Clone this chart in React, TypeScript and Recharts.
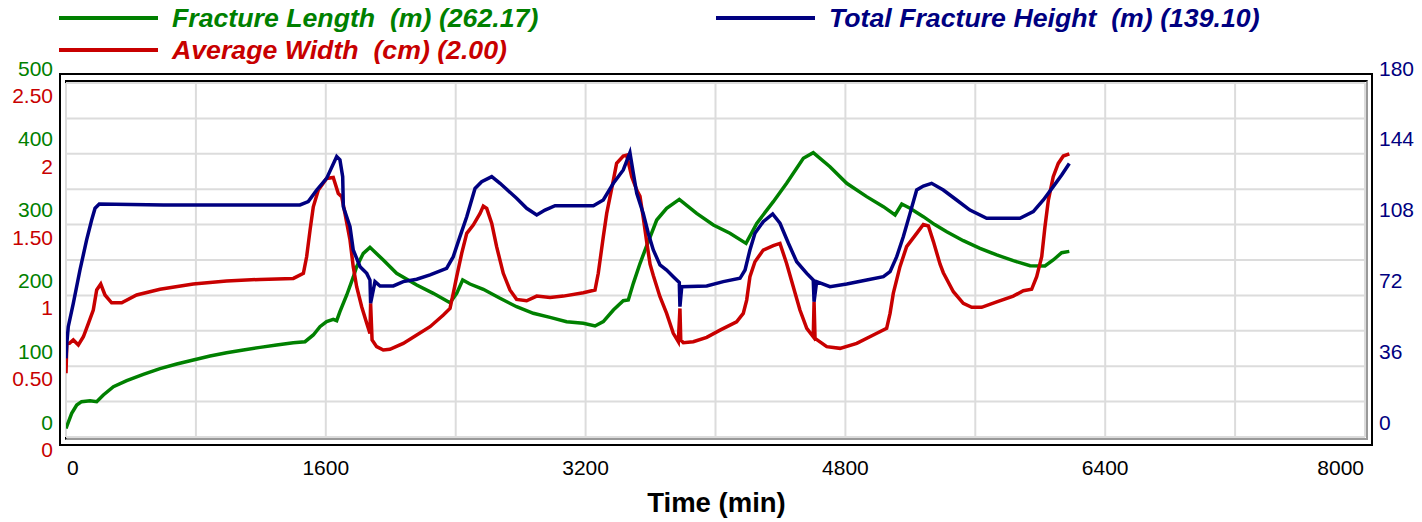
import React from 'react';
import { LineChart, Line, XAxis, YAxis, CartesianGrid } from 'recharts';

// ---- Data (time in minutes) ----
const lengthTime = [0, 8, 35, 66, 96, 148, 189, 230, 292, 374, 476, 579, 682, 784, 887, 989, 1092, 1195, 1297, 1400, 1472, 1523, 1564, 1605, 1646, 1667, 1687, 1729, 1770, 1790, 1831, 1872, 1954, 2036, 2160, 2262, 2365, 2406, 2443, 2488, 2570, 2673, 2775, 2878, 2981, 3083, 3186, 3258, 3309, 3371, 3432, 3463, 3494, 3535, 3576, 3638, 3699, 3777, 3884, 3987, 4089, 4188, 4254, 4356, 4438, 4541, 4602, 4705, 4808, 4931, 5034, 5106, 5147, 5198, 5280, 5350, 5424, 5526, 5629, 5732, 5834, 5937, 6029, 6080, 6132, 6179];
const lengthValue = [12, 17, 33.4, 45.2, 49.9, 51.3, 49.9, 59.3, 71.1, 79.6, 88.5, 96.5, 103.1, 108.8, 114.4, 119.1, 122.9, 126.6, 129.9, 133.2, 134.6, 144.1, 155.8, 162.9, 166.2, 164.3, 177, 200.6, 226.4, 240.5, 259.4, 267.9, 250, 231.2, 214.7, 202.9, 189.7, 202.9, 221.7, 216.1, 208.6, 195.9, 184, 174.7, 169, 162.9, 160.6, 156.8, 162.9, 179.4, 192.5, 193.5, 217, 245, 270, 306.5, 323, 335.7, 315.9, 299.4, 287.7, 273.5, 301.8, 332.4, 358.3, 393.6, 401.6, 381.8, 358.3, 339.5, 325.3, 313.6, 329.1, 323, 311.2, 300, 290, 277.3, 266.5, 257.1, 249, 242, 241.5, 250, 260.3, 262.17];

const widthTime = [0, 5, 21, 45, 76, 107, 138, 168, 189, 214, 240, 281, 343, 435, 579, 784, 989, 1195, 1400, 1462, 1482, 1503, 1523, 1554, 1605, 1646, 1677, 1698, 1718, 1749, 1769, 1790, 1821, 1852, 1872, 1876, 1885, 1913, 1954, 1995, 2077, 2160, 2242, 2324, 2365, 2385, 2406, 2437, 2468, 2508, 2550, 2570, 2591, 2622, 2652, 2693, 2734, 2775, 2837, 2899, 2981, 3063, 3186, 3258, 3278, 3309, 3330, 3371, 3391, 3432, 3453, 3484, 3515, 3535, 3555, 3576, 3597, 3617, 3658, 3699, 3740, 3771, 3781, 3786, 3802, 3863, 3946, 4028, 4130, 4171, 4192, 4212, 4243, 4294, 4356, 4397, 4438, 4479, 4520, 4562, 4602, 4607, 4613, 4685, 4767, 4870, 4972, 5054, 5075, 5095, 5136, 5177, 5239, 5280, 5311, 5342, 5383, 5403, 5465, 5526, 5578, 5639, 5732, 5834, 5896, 5947, 5978, 6009, 6029, 6050, 6080, 6111, 6142, 6179];
const widthValue = [0.45, 0.66, 0.661, 0.685, 0.65, 0.708, 0.803, 0.897, 1.038, 1.08, 1.003, 0.948, 0.948, 1.003, 1.043, 1.08, 1.101, 1.113, 1.12, 1.156, 1.273, 1.461, 1.626, 1.744, 1.826, 1.833, 1.72, 1.697, 1.579, 1.391, 1.203, 1.061, 0.92, 0.803, 0.732, 0.944, 0.685, 0.638, 0.614, 0.619, 0.661, 0.72, 0.779, 0.861, 0.908, 1.014, 1.132, 1.297, 1.438, 1.497, 1.579, 1.631, 1.614, 1.508, 1.344, 1.156, 1.038, 0.972, 0.962, 0.995, 0.986, 0.995, 1.019, 1.038, 1.156, 1.414, 1.579, 1.814, 1.932, 1.984, 1.991, 1.838, 1.744, 1.7, 1.55, 1.38, 1.22, 1.14, 0.991, 0.873, 0.732, 0.673, 0.908, 0.685, 0.666, 0.673, 0.704, 0.755, 0.814, 0.873, 0.967, 1.132, 1.238, 1.32, 1.351, 1.367, 1.226, 1.061, 0.897, 0.767, 0.708, 0.955, 0.697, 0.638, 0.626, 0.661, 0.72, 0.767, 0.873, 1.014, 1.203, 1.344, 1.438, 1.501, 1.49, 1.38, 1.22, 1.16, 1.026, 0.944, 0.916, 0.916, 0.955, 0.995, 1.033, 1.043, 1.132, 1.273, 1.485, 1.673, 1.838, 1.932, 1.984, 2.0];

const heightTime = [0, 5, 14, 45, 86, 127, 158, 179, 205, 600, 1000, 1441, 1492, 1544, 1605, 1667, 1687, 1704, 1708, 1749, 1769, 1811, 1852, 1872, 1876, 1903, 1934, 2016, 2077, 2160, 2242, 2344, 2385, 2426, 2468, 2519, 2560, 2622, 2673, 2775, 2837, 2899, 2950, 3012, 3248, 3309, 3371, 3432, 3473, 3494, 3515, 3535, 3555, 3586, 3617, 3658, 3699, 3740, 3777, 3781, 3792, 3946, 4048, 4151, 4182, 4212, 4243, 4294, 4352, 4397, 4449, 4500, 4562, 4602, 4607, 4623, 4705, 4808, 4931, 5034, 5075, 5116, 5157, 5198, 5239, 5280, 5331, 5403, 5485, 5567, 5670, 5875, 5957, 6019, 6080, 6132, 6179];
const heightValue = [40, 47.6, 56.1, 68, 84.9, 100.2, 110.3, 116.3, 118.5, 118, 118, 118, 119.7, 125.6, 131.5, 142.6, 140.9, 132.4, 117.1, 107, 95.1, 86.6, 83.2, 79.8, 68, 79, 76.8, 76.8, 79, 80.2, 82.4, 85.8, 91.7, 101.9, 112, 126.4, 129.8, 132.4, 129, 121.4, 116.3, 112.9, 115.4, 117.6, 117.6, 120.5, 129, 135.8, 144.6, 134.1, 123.9, 118.8, 113.7, 103.6, 95.1, 87.5, 84.9, 81.5, 78.5, 66.3, 76.4, 76.8, 79, 80.7, 84.9, 95.1, 103.6, 109.5, 113.4, 108.7, 98.5, 89.1, 83.2, 79.8, 68.8, 79, 76.4, 77.8, 79.8, 81.5, 84.1, 91.7, 101.9, 113.7, 125.6, 127.6, 129, 125.6, 120.5, 115.4, 111.2, 111.2, 114.6, 120.5, 127.3, 133.2, 139.1];

const xTicks = [0, 800, 1600, 2400, 3200, 4000, 4800, 5600, 6400, 7200, 8000];
const lengthTicks = [0, 50, 100, 150, 200, 250, 300, 350, 400, 450, 500];
const widthTickLabels = ['0', '0.50', '1', '1.50', '2', '2.50'];
const heightTicks = [0, 36, 72, 108, 144, 180];

const legendItems = [
  { label: 'Fracture Length  (m) (262.17)', color: '#008000' },
  { label: 'Average Width  (cm) (2.00)', color: '#C80000' },
  { label: 'Total Fracture Height  (m) (139.10)', color: '#000080' },
];

const GREEN = '#008000';
const RED = '#C80000';
const BLUE = '#000080';
const FONT = '"Liberation Sans", Arial, sans-serif';

const lengthData = lengthTime.map((t, i) => ({ t, v: lengthValue[i] }));
const widthData = widthTime.map((t, i) => ({ t, v: widthValue[i] }));
const heightData = heightTime.map((t, i) => ({ t, v: heightValue[i] }));

const XTick = (props: any) => {
  const { x, y, payload } = props;
  const v = payload.value;
  if (v % 1600 !== 0) return null;
  let anchor: 'middle' | 'start' | 'end' = 'middle';
  let xx = x;
  if (v === 0) { anchor = 'start'; xx = x + 1; }
  if (v === 8000) { anchor = 'end'; xx = x - 1; }
  return (
    <text x={xx} y={y + 30} textAnchor={anchor} fill="#000" fontSize={21} fontFamily={FONT}>
      {v}
    </text>
  );
};

const LeftTick = (props: any) => {
  const { x, y, payload } = props;
  const v = payload.value;
  if (v % 100 !== 0) return null;
  const wl = widthTickLabels[v / 100];
  return (
    <g>
      <text x={x - 5} y={y - 15 + 7.5} textAnchor="end" fill={GREEN} fontSize={21} fontFamily={FONT}>{v}</text>
      <text x={x - 5} y={y + 12.5 + 7.5} textAnchor="end" fill={RED} fontSize={21} fontFamily={FONT}>{wl}</text>
    </g>
  );
};

const RightTick = (props: any) => {
  const { x, y, payload } = props;
  return (
    <text x={x + 6} y={y - 15 + 7.5} textAnchor="start" fill={BLUE} fontSize={21} fontFamily={FONT}>{payload.value}</text>
  );
};

export default function App() {
  return (
    <div style={{ position: 'absolute', left: 0, top: 0, width: 1422, height: 522, background: '#fff', fontFamily: FONT }}>
      {/* frame */}
      <div style={{ position: 'absolute', left: 59, top: 73, width: 1310, height: 369, border: '2px solid #000' }} />
      <div style={{ position: 'absolute', left: 65, top: 80, width: 1299, height: 356, borderLeft: '2px solid #000', borderTop: '2px solid #000', borderRight: '2px solid #999', borderBottom: '2px solid #999' }} />
      <div style={{ position: 'absolute', left: 0, top: 0 }}>
        <LineChart width={1422} height={522} margin={{ top: 83, right: 0, bottom: 0, left: 0 }}>
          <CartesianGrid yAxisId="len" stroke="#dcdcdc" strokeWidth={2} />
          <XAxis
            dataKey="t"
            type="number"
            domain={[0, 8000]}
            ticks={xTicks}
            height={85}
            tickLine={false}
            axisLine={false}
            tick={<XTick />}
            allowDataOverflow
          />
          <YAxis
            yAxisId="len"
            orientation="left"
            type="number"
            domain={[0, 500]}
            ticks={lengthTicks}
            width={66}
            tickLine={false}
            axisLine={false}
            tick={<LeftTick />}
            interval={0}
          />
          <YAxis yAxisId="w" type="number" domain={[0, 2.5]} hide />
          <YAxis
            yAxisId="h"
            orientation="right"
            type="number"
            domain={[0, 180]}
            ticks={heightTicks}
            width={57}
            tickLine={false}
            axisLine={false}
            tick={<RightTick />}
            interval={0}
          />
          <Line data={lengthData} dataKey="v" yAxisId="len" type="linear" stroke={GREEN} strokeWidth={3.5} dot={false} isAnimationActive={false} />
          <Line data={widthData} dataKey="v" yAxisId="w" type="linear" stroke={RED} strokeWidth={3.5} dot={false} isAnimationActive={false} />
          <Line data={heightData} dataKey="v" yAxisId="h" type="linear" stroke={BLUE} strokeWidth={3.5} dot={false} isAnimationActive={false} />
        </LineChart>
      </div>
      {/* legend */}
      {legendItems.map((it, i) => {
        const left = i === 2 ? 716 : 59;
        const top = i === 1 ? 50 : 18;
        return (
          <div key={i} style={{ position: 'absolute', left, top: top - 17, height: 34, display: 'flex', alignItems: 'center' }}>
            <div style={{ width: 99, height: 4, background: it.color }} />
            <div style={{ marginLeft: 14, color: it.color, fontSize: 26.7, fontWeight: 'bold', fontStyle: 'italic', whiteSpace: 'pre', lineHeight: '34px' }}>{it.label}</div>
          </div>
        );
      })}
      <div style={{ position: 'absolute', left: 0, width: 1433, top: 487, textAlign: 'center', fontSize: 27.5, fontWeight: 'bold', lineHeight: '32px', color: '#000' }}>Time (min)</div>
    </div>
  );
}
